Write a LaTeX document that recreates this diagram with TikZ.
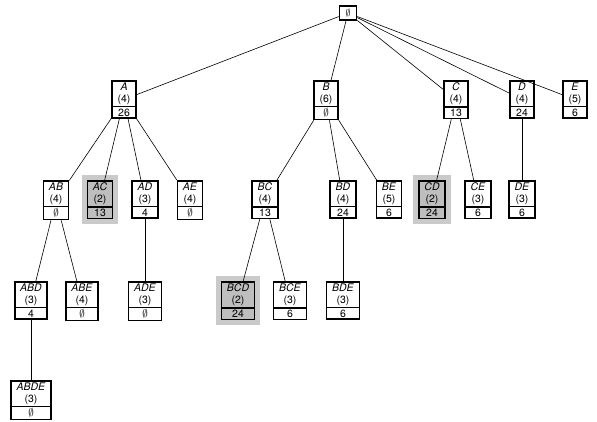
\documentclass[tikz,border=0pt]{standalone}
\usepackage{fontspec}
\setmainfont{TeX Gyre Heros}
\usetikzlibrary{shapes.multipart}
\definecolor{boxgray}{RGB}{190,190,190}
\definecolor{halogray}{RGB}{202,202,202}
\newcommand{\setlbl}[3]{\textit{#1}\\(#2)\nodepart{two}#3}
\newcommand{\emp}{\ensuremath{\emptyset}}
\begin{document}
\begin{tikzpicture}[x=1pt,y=1pt,
  setbox/.style={rectangle split, rectangle split parts=2, draw, line width=1.6pt,
    align=center, inner xsep=5.5pt, inner ysep=1.2pt, anchor=north, fill=white,
    font=\fontsize{10.5}{12}\selectfont},
  hl/.style={fill=boxgray, preaction={draw=halogray, line width=11pt}},
  rootbox/.style={draw, line width=1.6pt, minimum width=17pt, minimum height=14pt, inner sep=1pt},
  conn/.style={line width=0.6pt}]
\useasboundingbox (0,0) rectangle (597,422);
% root
\node[rootbox] (r) at (348,409) {\emp};
% level 1
\node[setbox] (a) at (124,342) {\setlbl{A}{4}{26}};
\node[setbox] (b) at (326,342) {\setlbl{B}{6}{\emp}};
\node[setbox] (c) at (456,342) {\setlbl{C}{4}{13}};
\node[setbox] (d) at (522,342) {\setlbl{D}{4}{24}};
\node[setbox] (e) at (575,342) {\setlbl{E}{5}{6}};
% level 2
\node[setbox] (ab) at (56,242) {\setlbl{AB}{4}{\emp}};
\node[setbox,hl] (ac) at (100,242) {\setlbl{AC}{2}{13}};
\node[setbox] (ad) at (145,242) {\setlbl{AD}{3}{4}};
\node[setbox] (ae) at (190,242) {\setlbl{AE}{4}{\emp}};
\node[setbox] (bc) at (265,242) {\setlbl{BC}{4}{13}};
\node[setbox] (bd) at (343,242) {\setlbl{BD}{4}{24}};
\node[setbox] (be) at (389,242) {\setlbl{BE}{5}{6}};
\node[setbox,hl] (cd) at (432,242) {\setlbl{CD}{2}{24}};
\node[setbox] (ce) at (478,242) {\setlbl{CE}{3}{6}};
\node[setbox] (de) at (522,242) {\setlbl{DE}{3}{6}};
% level 3
\node[setbox] (abd) at (31,141) {\setlbl{ABD}{3}{4}};
\node[setbox] (abe) at (82,141) {\setlbl{ABE}{4}{\emp}};
\node[setbox] (ade) at (145,141) {\setlbl{ADE}{3}{\emp}};
\node[setbox,hl] (bcd) at (238,141) {\setlbl{BCD}{2}{24}};
\node[setbox] (bce) at (290,141) {\setlbl{BCE}{3}{6}};
\node[setbox] (bde) at (343,141) {\setlbl{BDE}{3}{6}};
% level 4
\node[setbox] (abde) at (31,42) {\setlbl{ABDE}{3}{\emp}};
% connectors
\foreach \p/\q in {r/a,r/b,r/c,r/d,r/e,
  a/ab,a/ac,a/ad,a/ae,b/bc,b/bd,b/be,c/cd,c/ce,d/de,
  ab/abd,ab/abe,ad/ade,bc/bcd,bc/bce,bd/bde,abd/abde}
  \draw[conn] (\p) -- (\q);
\end{tikzpicture}
\end{document}
